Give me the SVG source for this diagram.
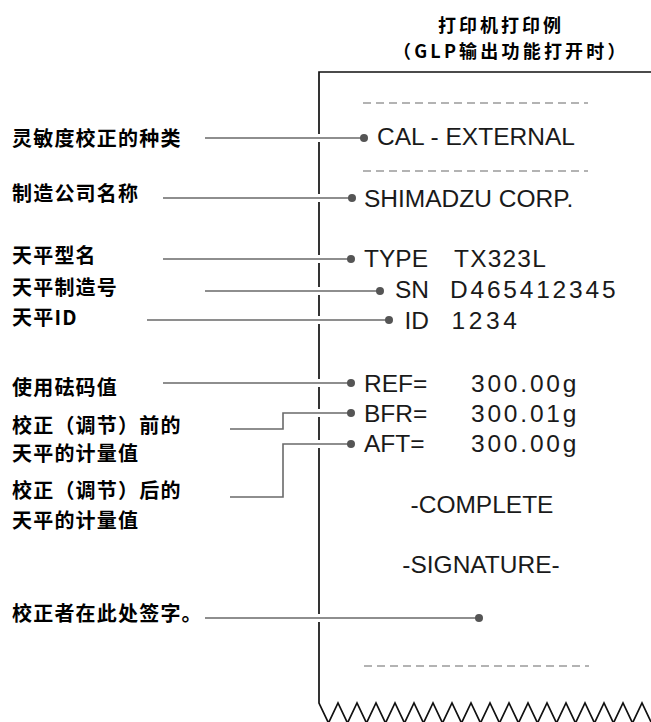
<svg xmlns="http://www.w3.org/2000/svg" width="651" height="722" viewBox="0 0 651 722">
<style>
.lbl{font-family:"Noto Sans CJK SC","Noto Sans CJK JP",sans-serif;font-weight:700;font-size:20px;letter-spacing:1.2px;fill:#000}
.ttl{font-family:"Noto Sans CJK SC","Noto Sans CJK JP",sans-serif;font-weight:700;font-size:18px;fill:#000}
.pt{font-family:"Liberation Sans",Arial,sans-serif;font-size:24.5px;fill:#1a1a1a}
.num{letter-spacing:2.8px}
.dash{stroke:#9a9a9a;stroke-width:1.6;stroke-dasharray:8 5;fill:none}
.halo{stroke:#fff;stroke-width:8;fill:none}
.conn{stroke:#6a6a6a;stroke-width:1.6;fill:none}
.dot{fill:#555}
</style>
<rect width="651" height="722" fill="#fff"/>
<g id="title">
<text class="ttl" x="438" y="32" letter-spacing="3">打印机打印例</text>
<text class="ttl" x="393" y="58" letter-spacing="3.2">（GLP输出功能打开时）</text>
</g>
<g id="paper">
<path d="M651,72 L319,72 L319,703 L328.5,723 L338,703 L347.5,723 L357,703 L366.5,723 L376,703 L385.5,723 L395,703 L404.5,723 L414,703 L423.5,723 L433,703 L442.5,723 L452,703 L461.5,723 L471,703 L480.5,723 L490,703 L499.5,723 L509,703 L518.5,723 L528,703 L537.5,723 L547,703 L556.5,723 L566,703 L575.5,723 L585,703 L594.5,723 L604,703 L613.5,723 L623,703 L632.5,723 L642,703 L651.5,723" fill="#fff" stroke="#111" stroke-width="1.7"/>
<line class="dash" x1="363" y1="103" x2="588" y2="103"/>
<line class="dash" x1="363" y1="171" x2="588" y2="171"/>
<line class="dash" x1="364" y1="666" x2="589" y2="666"/>
</g>
<g id="connectors">
<path class="halo" d="M205,138 H364 M163,198 H352 M163,259 H351 M205,291 H380 M147,320 H389 M163,383 H351 M230,429 H283 V413 H351 M230,497 H283 V444 H351 M205,618 H479"/>
<path class="conn" d="M205,138 H364 M163,198 H352 M163,259 H351 M205,291 H380 M147,320 H389 M163,383 H351 M230,429 H283 V413 H351 M230,497 H283 V444 H351 M205,618 H479"/>
</g>
<g id="n-cal"><text class="lbl" x="12" y="146">灵敏度校正的种类</text><circle class="dot" cx="364" cy="138" r="4"/><text class="pt" x="377" y="145">CAL - EXTERNAL</text></g>
<g id="n-corp"><text class="lbl" x="12" y="201">制造公司名称</text><circle class="dot" cx="352" cy="198" r="4"/><text class="pt" x="364" y="207">SHIMADZU CORP.</text></g>
<g id="n-type"><text class="lbl" x="12" y="263">天平型名</text><circle class="dot" cx="351" cy="259" r="4"/><text class="pt" x="364" y="267">TYPE</text><text class="pt" x="454" y="267" letter-spacing="1.2">TX323L</text></g>
<g id="n-sn"><text class="lbl" x="12" y="295">天平制造号</text><circle class="dot" cx="380" cy="291" r="4"/><text class="pt" x="395" y="298">SN</text><text class="pt num" x="450" y="298">D465412345</text></g>
<g id="n-id"><text class="lbl" x="12" y="325">天平ID</text><circle class="dot" cx="389" cy="320" r="4"/><text class="pt" x="404.5" y="329">ID</text><text class="pt" x="451.5" y="329" letter-spacing="3.6">1234</text></g>
<g id="n-ref"><text class="lbl" x="12" y="395">使用砝码值</text><circle class="dot" cx="351" cy="383" r="4"/><text class="pt" x="364" y="392">REF=</text><text class="pt num" x="471" y="392">300.00g</text></g>
<g id="n-bfr"><text class="lbl" x="12" y="433">校正（调节）前的</text><text class="lbl" x="12" y="461">天平的计量值</text><circle class="dot" cx="351" cy="413" r="4"/><text class="pt" x="364" y="422">BFR=</text><text class="pt num" x="471" y="422">300.01g</text></g>
<g id="n-aft"><text class="lbl" x="12" y="498">校正（调节）后的</text><text class="lbl" x="12" y="528">天平的计量值</text><circle class="dot" cx="351" cy="444" r="4"/><text class="pt" x="364" y="452">AFT=</text><text class="pt num" x="471" y="452">300.00g</text></g>
<g id="n-complete"><text class="pt" x="482" y="513" text-anchor="middle">-COMPLETE</text></g>
<g id="n-sign"><text class="pt" x="481" y="573" text-anchor="middle">-SIGNATURE-</text><text class="lbl" x="12" y="621">校正者在此处签字。</text><circle class="dot" cx="479" cy="618" r="4"/></g>
</svg>
